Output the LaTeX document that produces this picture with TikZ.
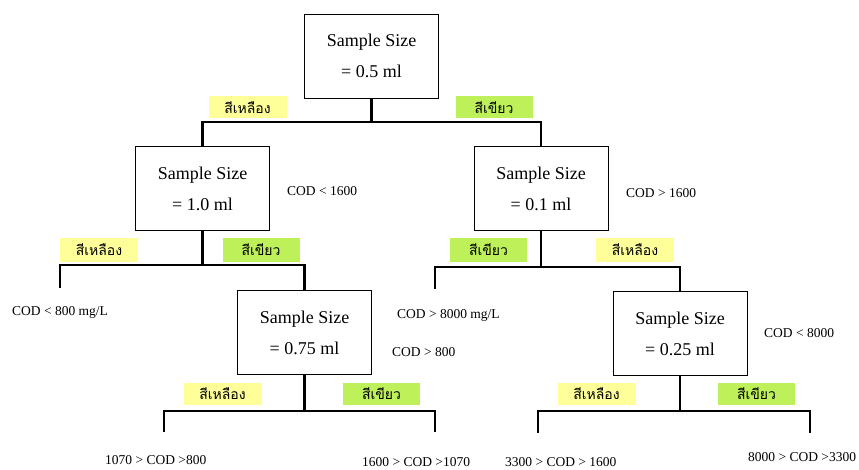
\documentclass[tikz,border=0pt]{standalone}
\usepackage{fontspec}
\setmainfont{Liberation Serif}
\newfontfamily\thaifont[Script=Thai]{Loma}
\definecolor{labyellow}{RGB}{255,255,153}
\definecolor{labgreen}{RGB}{190,240,90}

\begin{document}
\begin{tikzpicture}[x=1pt, y=-1pt,
  sizebox/.style={draw=black, line width=0.9pt, fill=white, minimum width=134pt, minimum height=84pt,
    inner sep=0pt, align=center, font=\fontsize{18}{31}\selectfont},
  yellowtag/.style={fill=labyellow, minimum width=78pt, minimum height=22pt, inner sep=0pt,
    font=\thaifont\fontsize{14}{14}\selectfont},
  greentag/.style={fill=labgreen, minimum width=77pt, minimum height=22pt, inner sep=0pt,
    font=\thaifont\fontsize{14}{14}\selectfont},
  codtext/.style={anchor=west, inner sep=0pt, font=\fontsize{13.5}{14}\selectfont},
  bar/.style={draw=black, line width=2.4pt}]

% page frame, keeps the margins of the original figure
  \useasboundingbox (0,0) rectangle (859,470);

% sample size boxes
  \node[sizebox] (top) at (371.5,56) {Sample Size\\= 0.5 ml};
  \node[sizebox] (l1) at (202.5,188.5) {Sample Size\\= 1.0 ml};
  \node[sizebox] (r1) at (541,188.5) {Sample Size\\= 0.1 ml};
  \node[sizebox] (l2) at (304.5,332.5) {Sample Size\\= 0.75 ml};
  \node[sizebox] (r2) at (680,333.5) {Sample Size\\= 0.25 ml};

% junctions and open ends of the branches
  \coordinate (j0) at (371.5,122);
  \coordinate (j1) at (202.5,265);
  \coordinate (j2) at (541,267);
  \coordinate (j3) at (304.5,411);
  \coordinate (j4) at (680,411);
  \coordinate (endA) at (60,288);
  \coordinate (endB) at (435,289);
  \coordinate (endC) at (164,432);
  \coordinate (endD) at (435,432);
  \coordinate (endE) at (538,433);
  \coordinate (endF) at (810,433);

  \draw[bar] (top.south) -- (j0);
  \draw[bar] (j0) -| (l1.north);
  \draw[bar] (j0) -| (r1.north);
  \draw[bar] (l1.south) -- (j1);
  \draw[bar] (j1) -| (endA);
  \draw[bar] (j1) -| (l2.north);
  \draw[bar] (r1.south) -- (j2);
  \draw[bar] (j2) -| (endB);
  \draw[bar] (j2) -| (r2.north);
  \draw[bar] (l2.south) -- (j3);
  \draw[bar] (j3) -| (endC);
  \draw[bar] (j3) -| (endD);
  \draw[bar] (r2.south) -- (j4);
  \draw[bar] (j4) -| (endE);
  \draw[bar] (j4) -| (endF);

% colour tags
  \node[yellowtag] (t0y) at (247.5,107.5) {สีเหลือง};
  \node[greentag] (t0g) at (494,107.5) {สีเขียว};
  \node[yellowtag, minimum height=24pt] (t1y) at (99,250) {สีเหลือง};
  \node[greentag, minimum height=24pt] (t1g) at (261,250) {สีเขียว};
  \node[greentag, minimum height=24pt] (t2g) at (488.5,250) {สีเขียว};
  \node[yellowtag, minimum height=24pt] (t2y) at (635,250) {สีเหลือง};
  \node[yellowtag] (t3y) at (222.5,394) {สีเหลือง};
  \node[greentag] (t3g) at (381.5,394) {สีเขียว};
  \node[yellowtag] (t4y) at (596.5,394) {สีเหลือง};
  \node[greentag] (t4g) at (756.5,394) {สีเขียว};

% COD ranges
  \node[codtext] (c1) at (287,191) {COD < 1600};
  \node[codtext] (c2) at (626,193) {COD > 1600};
  \node[codtext] (c3) at (12,312) {COD < 800 mg/L};
  \node[codtext] (c4) at (397,315) {COD > 8000 mg/L};
  \node[codtext] (c5) at (392,352) {COD > 800};
  \node[codtext] (c6) at (764,333) {COD < 8000};
  \node[codtext] (c7) at (105,460) {1070 > COD >800};
  \node[codtext] (c8) at (362,462) {1600 > COD >1070};
  \node[codtext] (c9) at (505,462) {3300 > COD > 1600};
  \node[codtext] (c10) at (748,457) {8000 > COD >3300};
\end{tikzpicture}
\end{document}
